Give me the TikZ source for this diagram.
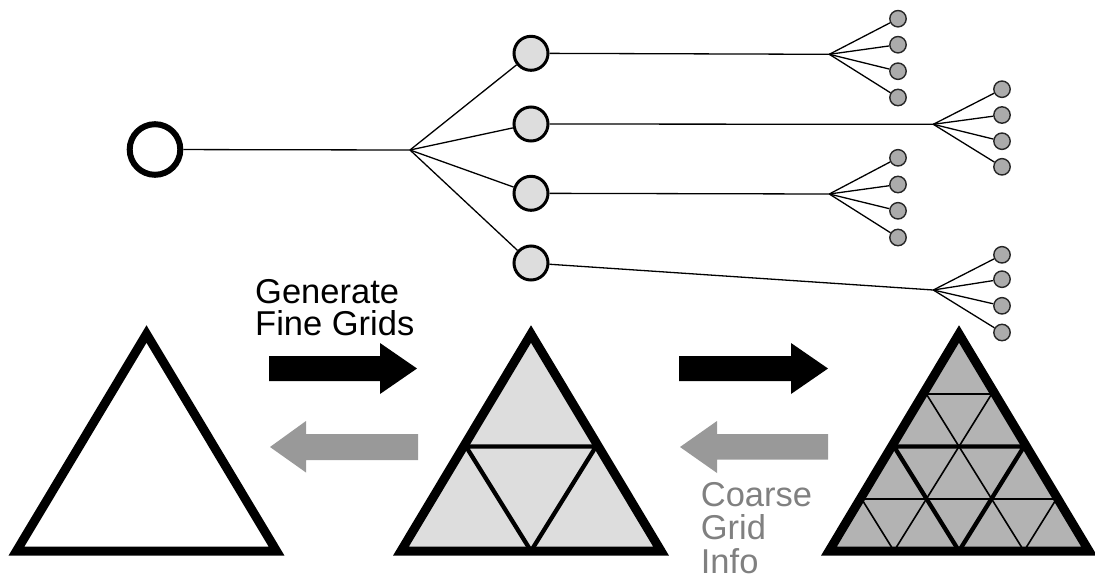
\documentclass[tikz,border=0pt]{standalone}
\usepackage{fontspec}
\setmainfont{Liberation Sans}
\definecolor{lightc}{HTML}{DDDDDD}
\definecolor{darkfill}{HTML}{B3B3B3}
\definecolor{leafgray}{HTML}{ABABAB}
\definecolor{arrowgray}{HTML}{999999}
\definecolor{textgray}{HTML}{808080}
\begin{document}
\begin{tikzpicture}[x=1pt,y=-1pt,
  rootc/.style={circle,draw,line width=6pt,fill=white,inner sep=0pt,minimum size=50.6pt},
  midc/.style={circle,draw,line width=3pt,fill=lightc,inner sep=0pt,minimum size=34pt},
  leafc/.style={circle,draw=black!85,line width=1.4pt,fill=leafgray,inner sep=0pt,minimum size=16.4pt},
  edgeline/.style={line width=1.3pt},
  triborder/.style={line width=9pt,line join=miter},
  thickmesh/.style={line width=4.3pt},
  thinmesh/.style={line width=1.6pt},
  lbl/.style={font=\fontsize{34.5}{32}\selectfont,align=left,inner sep=0pt,anchor=base west}]
\useasboundingbox (0,0) rectangle (1095,579);

% ---------- tree ----------
\node[rootc] (r) at (155,149.5) {};
\coordinate (b0) at (410,150);
\node[midc] (m1) at (531,53.3) {};
\node[midc] (m2) at (531,124) {};
\node[midc] (m3) at (531,193.3) {};
\node[midc] (m4) at (531,263) {};
\coordinate (b1) at (829.3,54.3);
\coordinate (b2) at (933.3,124.3);
\coordinate (b3) at (829.3,194);
\coordinate (b4) at (933.3,290);
% leaves
\node[leafc] (l11) at (898,18.7) {};
\node[leafc] (l12) at (898,44.7) {};
\node[leafc] (l13) at (898,71.2) {};
\node[leafc] (l14) at (898,97.5) {};
\node[leafc] (l21) at (1002,89.2) {};
\node[leafc] (l22) at (1002,115) {};
\node[leafc] (l23) at (1002,141.2) {};
\node[leafc] (l24) at (1002,166.8) {};
\node[leafc] (l31) at (898,157.8) {};
\node[leafc] (l32) at (898,184.5) {};
\node[leafc] (l33) at (898,210.8) {};
\node[leafc] (l34) at (898,237.5) {};
\node[leafc] (l41) at (1002,254.8) {};
\node[leafc] (l42) at (1002,279.2) {};
\node[leafc] (l43) at (1002,305.8) {};
\node[leafc] (l44) at (1002,332.5) {};

\draw[edgeline] (r) -- (b0);
\foreach \i in {1,...,4}{
  \draw[edgeline] (b0) -- (m\i);
  \draw[edgeline] (m\i) -- (b\i);
  \foreach \j in {1,...,4}{
    \draw[edgeline] (b\i) -- (l\i\j);
  }
}

% ---------- arrows ----------
\fill[black] (269,356) -- (380,356) -- (380,343) -- (417,368.5) -- (380,394) -- (380,381) -- (269,381) -- cycle;
\fill[arrowgray] (418,434) -- (306,434) -- (306,421) -- (270,447) -- (306,472.5) -- (306,460) -- (418,460) -- cycle;
\fill[black] (679,356) -- (791,356) -- (791,343) -- (828,368.5) -- (791,394) -- (791,381) -- (679,381) -- cycle;
\fill[arrowgray] (828,434) -- (717,434) -- (717,421) -- (680,447) -- (717,473) -- (717,459.5) -- (828,459.5) -- cycle;

% ---------- labels (base anchor = baseline of last line) ----------
\node[lbl] (gen) at (255,335) {Generate\\Fine Grids};
\node[lbl,text=textgray,font=\fontsize{34.5}{33.5}\selectfont] (coarse) at (700.7,573) {Coarse\\Grid\\Info};

% ---------- triangle 1 ----------
\draw[triborder] (16.5,551) -- (146.5,334) -- (276.5,551) -- cycle;

% ---------- triangle 2 ----------
\fill[lightc] (401,551) -- (531,334) -- (661,551) -- cycle;
\draw[thickmesh] (466,446.5) -- (596,446.5) -- (531,551) -- cycle;
\draw[triborder] (401,551) -- (531,334) -- (661,551) -- cycle;

% ---------- triangle 3 ----------
\fill[darkfill] (829,551) -- (959,334) -- (1089,551) -- cycle;
\foreach \i in {0,...,4}{
  \foreach \j in {0,...,\i}{
    \coordinate (g\i\j) at ({959-32.5*\i+65*\j},{342+52.25*\i});
  }
}
\draw[thinmesh] (g10) -- (g11);
\draw[thinmesh] (g30) -- (g33);
\draw[thinmesh] (g11) -- (g41);
\draw[thinmesh] (g33) -- (g43);
\draw[thinmesh] (g10) -- (g43);
\draw[thinmesh] (g30) -- (g41);
\draw[thickmesh] (g20) -- (g22) -- (g42) -- cycle;
\draw[triborder] (829,551) -- (959,334) -- (1089,551) -- cycle;
\end{tikzpicture}
\end{document}
